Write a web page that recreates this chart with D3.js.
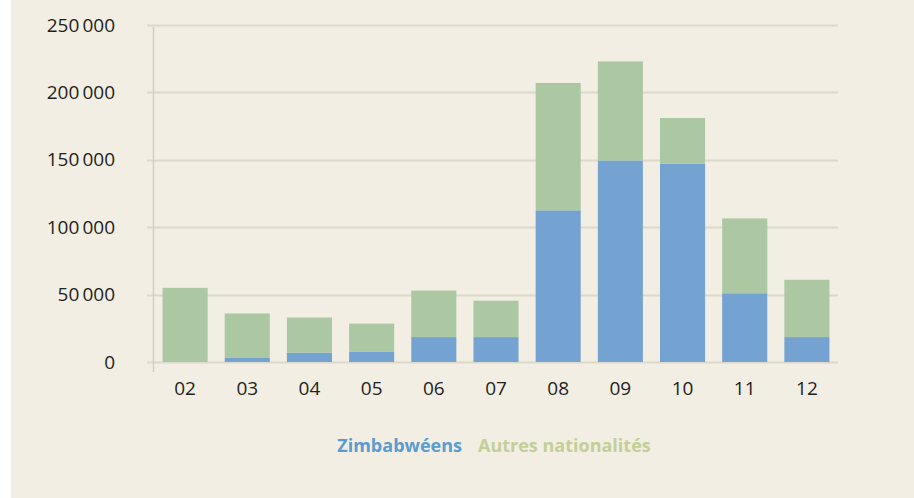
<!DOCTYPE html>
<html>
<head>
<meta charset="utf-8">
<script src="https://cdn.jsdelivr.net/npm/d3@7"></script>
<style>
  html, body { margin: 0; padding: 0; background: #fff; }
  svg { display: block; }
  text { font-family: "Open Sans", sans-serif; }
</style>
</head>
<body>
<svg id="chart" width="914" height="498"></svg>
<script>
const years = ["02", "03", "04", "05", "06", "07", "08", "09", "10", "11", "12"];
const zimbabweens = [0, 3000, 7000, 7500, 18500, 18500, 112500, 149500, 147000, 51000, 18500];
const autres = [55000, 33000, 26000, 21000, 34500, 27000, 94500, 73500, 34000, 55500, 42500];
const yTicks = [0, 50000, 100000, 150000, 200000, 250000];

const svg = d3.select("#chart");
const width = +svg.attr("width");
const height = +svg.attr("height");

// beige panel, white strip on the left
svg.append("rect")
  .attr("x", 11).attr("y", 0)
  .attr("width", width - 11).attr("height", height)
  .attr("fill", "#f2eee3");

const margin = { top: 25, right: 76, bottom: 136, left: 154 };
const innerWidth = width - margin.left - margin.right;
const innerHeight = height - margin.top - margin.bottom;

const rows = years.map((yr, i) => ({ year: yr, zim: zimbabweens[i], autres: autres[i] }));
const stacked = d3.stack().keys(["zim", "autres"])(rows);

const x = d3.scaleBand()
  .domain(years)
  .range([0, innerWidth])
  .paddingInner(0.275)
  .paddingOuter(0.1375);

const y = d3.scaleLinear()
  .domain([0, 250000])
  .range([innerHeight, 0]);

const color = { zim: "#74a3d2", autres: "#abc8a3" };

const g = svg.append("g").attr("transform", `translate(${margin.left},${margin.top})`);

const fmt = v => d3.format(",")(v).replace(/,/g, "\u2009");

//gridlines
g.append("g")
  .selectAll("line")
  .data(yTicks)
  .join("line")
  .attr("x1", -7)
  .attr("x2", innerWidth)
  .attr("y1", d => Math.round(y(d)) + 0.5)
  .attr("y2", d => Math.round(y(d)) + 0.5)
  .attr("stroke", "#dcd8cc")
  .attr("stroke-width", 2);

//vertical axis line
g.append("line")
  .attr("x1", -0.5).attr("x2", -0.5)
  .attr("y1", 2).attr("y2", innerHeight + 10)
  .attr("stroke", "#d2cec2")
  .attr("stroke-width", 1.5);

//y labels
const yAxis = g.append("g")
  .attr("transform", "translate(-36,0)")
  .call(d3.axisLeft(y).tickValues(yTicks).tickSize(0).tickFormat(fmt));
yAxis.select(".domain").remove();
yAxis.selectAll("text")
  .attr("fill", "#231f20")
  .style("font-family", "'Open Sans', sans-serif")
  .style("font-size", "19px");

//bars
g.selectAll("g.layer")
  .data(stacked)
  .join("g")
  .attr("class", "layer")
  .attr("fill", d => color[d.key])
  .selectAll("rect")
  .data(d => d)
  .join("rect")
  .attr("x", d => x(d.data.year))
  .attr("y", d => y(d[1]))
  .attr("width", x.bandwidth())
  .attr("height", d => y(d[0]) - y(d[1]));

//x labels
const xAxis = g.append("g")
  .attr("transform", `translate(0,${innerHeight + 16})`)
  .call(d3.axisBottom(x).tickSize(0));
xAxis.select(".domain").remove();
xAxis.selectAll("text")
  .attr("fill", "#231f20")
  .style("font-family", "'Open Sans', sans-serif")
  .style("font-size", "19px");

//legend
const legend = svg.append("text")
  .attr("x", 398)
  .attr("y", 452)
  .attr("text-anchor", "middle")
  .style("font-size", "18px")
  .style("font-weight", "bold");
legend.append("tspan").attr("fill", "#5b9ccf").text("Zimbabwéens");
legend.append("tspan").attr("dx", 16).attr("fill", "#c2d097").text("Autres nationalités");
legend.attr("x", 494);
</script>
</body>
</html>
